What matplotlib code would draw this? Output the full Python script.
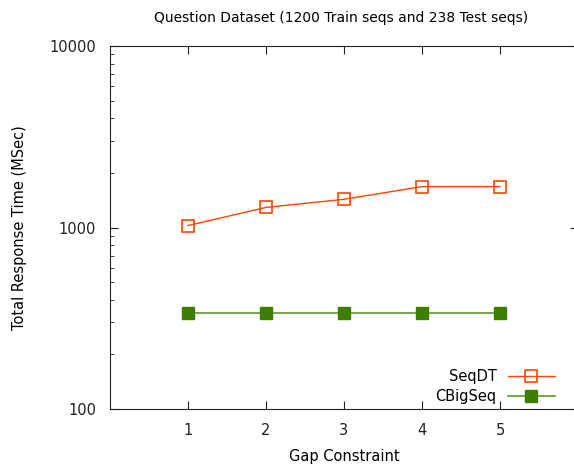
import matplotlib
matplotlib.use("Agg")
import matplotlib.pyplot as plt
from matplotlib.ticker import LogLocator, FixedLocator, NullFormatter

gaps = [1, 2, 3, 4, 5]
seqdt = [1025, 1290, 1430, 1680, 1680]
cbigseq = [340, 340, 340, 340, 340]

fig = plt.figure(figsize=(5.74, 4.66), dpi=100)
ax = fig.add_axes([110 / 574, 57 / 466, 468 / 574, 363 / 466])

ax.plot(gaps, seqdt, color="#ff4500", lw=1, marker="s", ms=9, mfc="none",
        mec="#ff4500", mew=1.2, label="SeqDT")
ax.plot(gaps, cbigseq, color="#5c9a2c", lw=1.2, marker="s", ms=9, mfc="#3d7d00",
        mec="#3d7d00", label="CBigSeq")

ax.set_yscale("log")
ax.set_ylim(100, 10000)
ax.set_xlim(0, 6)
ax.xaxis.set_major_locator(FixedLocator(gaps))
ax.yaxis.set_major_locator(FixedLocator([100, 1000, 10000]))
ax.yaxis.set_major_formatter(plt.FuncFormatter(lambda v, p: "%d" % v))
ax.yaxis.set_minor_locator(LogLocator(base=10, subs=range(2, 10)))
ax.yaxis.set_minor_formatter(NullFormatter())
ax.tick_params(which="both", direction="in", top=True, right=True, labelsize=10.5,
               colors="#222222", pad=10)
ax.tick_params(which="major", length=6)
ax.tick_params(which="minor", length=3)
for s in ax.spines.values():
    s.set_color("#222222")

ax.set_xlabel("Gap Constraint", fontsize=10.5, labelpad=8)
ax.set_ylabel("Total Response Time (MSec)", fontsize=10.5, labelpad=16)
fig.text(0.595, 0.962, "Question Dataset (1200 Train seqs and 238 Test seqs)",
         ha="center", va="center", fontsize=10)

ax.legend(loc="lower right", bbox_to_anchor=(562 / 574, 55 / 466),
          bbox_transform=fig.transFigure, markerfirst=False, frameon=False,
          fontsize=10.5, handlelength=3.2, labelspacing=0.3, borderpad=0)

fig.savefig("out.png", dpi=100)
